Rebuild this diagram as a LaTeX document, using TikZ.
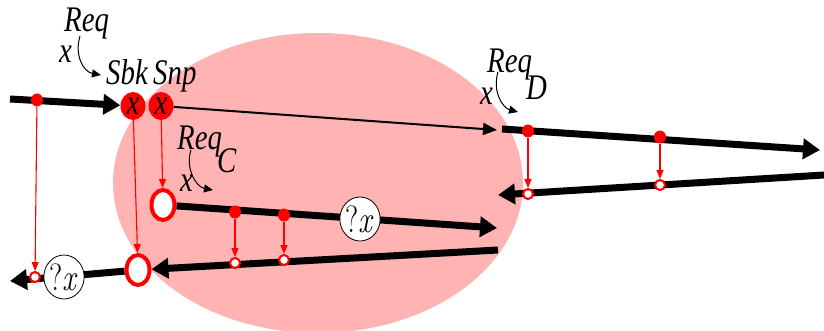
\documentclass[tikz,border=0pt]{standalone}
\usepackage{fontspec}
\setmainfont{Liberation Serif}[FakeStretch=0.8]
\newfontfamily\lmfont{Latin Modern Roman}
\usepackage{graphicx}
\usetikzlibrary{arrows.meta,shapes.geometric}
\definecolor{cPink}{HTML}{FFB3B3}
\definecolor{cRed}{HTML}{FF0000}
\pgfdeclarelayer{back}
\pgfdeclarelayer{wires}
\pgfsetlayers{back,wires,main}
\newcommand{\lfont}{\fontsize{36}{42}\selectfont\itshape}
\newcommand{\qx}{\scalebox{0.8}[1]{\lmfont\fontsize{38}{44}\selectfont\upshape ?\textit{x}}}
\tikzset{
  thk/.style={line width=7pt,-{Triangle[length=17pt,width=20pt]}},
  thn/.style={line width=2pt,-{Triangle[length=14pt,width=12pt]}},
  rarr/.style={draw=cRed,line width=1.1pt,-{Triangle[length=9pt,width=7pt]}},
  carr/.style={line width=1pt,-{Triangle[length=9pt,width=8pt]}},
  rdot/.style={ellipse,fill=cRed,minimum width=12pt,minimum height=13pt,inner sep=0pt},
  odot/.style={circle,draw=cRed,fill=white,line width=2pt,minimum size=10pt,inner sep=0pt},
  obig/.style={ellipse,draw=cRed,fill=white,line width=4pt,minimum width=23pt,minimum height=30pt,inner sep=0pt},
  snode/.style={ellipse,fill=cRed,minimum width=25pt,minimum height=28pt,inner sep=0pt,font=\lfont},
  qnode/.style={ellipse,draw,fill=white,line width=0.8pt,minimum width=36pt,minimum height=44pt,inner sep=0pt},
  lbl/.style={anchor=base west,inner sep=0pt,font=\lfont},
}

\begin{document}
\begin{tikzpicture}[x=1pt,y=-1pt]
  \useasboundingbox (0,0) rectangle (824,331);
  \begin{pgfonlayer}{back}
    \fill[cPink] (318,183) ellipse [x radius=205,y radius=150];
  \end{pgfonlayer}
  % incoming track and the two sites
  \coordinate (a0) at (10,99);
  \node[rdot] (rd1) at (37,100) {};
  \node[snode] (sbk) at (133,106) {x};
  \node[snode] (snp) at (161,106) {x};
  \node[lbl] (lsbk) at (106,85) {Sbk};
  \node[lbl] (lsnp) at (153,85) {Snp};
  \node[lbl] (lreq) at (64,32) {Req};
  \node[lbl] (lx) at (59,63) {x};
  \coordinate (k1s) at (80,36);
  \coordinate (k1e) at (101,75);
  % right hand loop
  \coordinate (d0) at (497,130);
  \coordinate (d1) at (502,129);
  \coordinate (d2) at (820,150);
  \coordinate (e0) at (824,175);
  \coordinate (e1) at (498,195);
  \node[rdot] (rd4) at (528,131) {};
  \node[rdot] (rd5) at (660,137) {};
  \node[odot] (o4) at (528,194) {};
  \node[odot] (o5) at (660,185) {};
  \node[lbl] (lreqd) at (487,73) {Req};
  \node[lbl] (ld) at (526,100) {D};
  \node[lbl] (lxd) at (480,105) {x};
  \coordinate (k3s) at (498,72);
  \coordinate (k3e) at (518,112);
  % inner loop
  \node[obig] (c1) at (163,205) {};
  \node[rdot] (rd2) at (235,212) {};
  \node[rdot] (rd3) at (284,215) {};
  \node[qnode] (q2) at (360,219) {\qx};
  \coordinate (f0) at (497,228);
  \coordinate (g0) at (498,250);
  \node[odot] (o2) at (235,263) {};
  \node[odot] (o3) at (284,260) {};
  \node[obig] (c2) at (138,270) {};
  \node[lbl] (lreqc) at (177,150) {Req};
  \node[lbl] (lc) at (217,173) {C};
  \node[lbl] (lxc) at (180,192) {x};
  \coordinate (k2s) at (191,150);
  \coordinate (k2e) at (213,190);
  % outgoing track
  \node[qnode] (q1) at (64,277) {\qx};
  \node[odot] (o1) at (35,277) {};
  \coordinate (h0) at (10,281);
  \begin{pgfonlayer}{wires}
    \draw[thk] (a0) -- (sbk);
    \draw[thn] (snp) -- (d0);
    \draw[thk] (d1) -- (d2);
    \draw[thk] (e0) -- (e1);
    \draw[thk] (c1) -- (f0);
    \draw[thk] (g0) -- (c2);
    \draw[thk] (c2) -- (h0);
  \end{pgfonlayer}
  \draw[rarr] (rd1) -- (o1);
  \draw[rarr] (sbk) -- (c2);
  \draw[rarr] (snp) -- (c1);
  \draw[rarr] (rd2) -- (o2);
  \draw[rarr] (rd3) -- (o3);
  \draw[rarr] (rd4) -- (o4);
  \draw[rarr] (rd5) -- (o5);
  \draw[carr] (k1s) .. controls (74,56) and (84,72) .. (k1e);
  \draw[carr] (k2s) .. controls (185,168) and (196,187) .. (k2e);
  \draw[carr] (k3s) .. controls (492,92) and (503,108) .. (k3e);
\end{tikzpicture}
\end{document}
